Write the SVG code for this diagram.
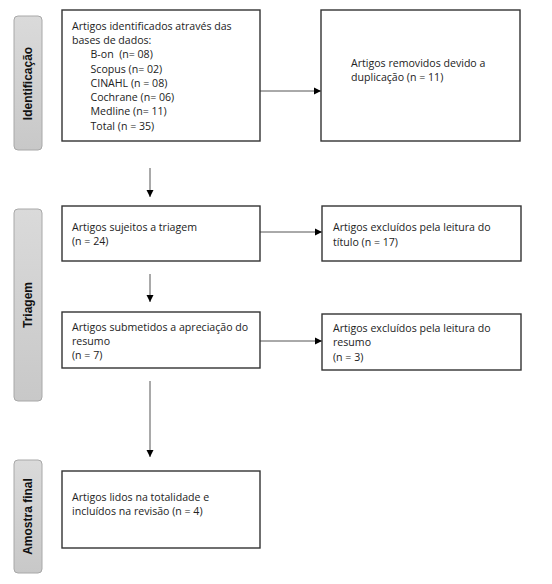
<svg xmlns="http://www.w3.org/2000/svg" width="552" height="584" viewBox="0 0 552 584">
<style>
.box{fill:#fff;stroke:#333;stroke-width:1.4}
.bar{fill:url(#g);stroke:#a8a8a8;stroke-width:1}
.t{font-family:"Open Sans","Liberation Sans",sans-serif;font-size:10.6px;fill:#222}
.lab{font-family:"Liberation Sans",Arial,sans-serif;font-size:12px;font-weight:bold;fill:#111;text-anchor:middle}
.c{stroke:#555;stroke-width:1;fill:none;marker-end:url(#ah)}
</style>
<defs>
<linearGradient id="g" x1="0" y1="0" x2="0" y2="1">
<stop offset="0" stop-color="#dadada"/>
<stop offset="1" stop-color="#c8c8c8"/>
</linearGradient>
<marker id="ah" markerWidth="8" markerHeight="8" refX="7" refY="4" orient="auto" markerUnits="userSpaceOnUse">
<path d="M0,0.5 L7,4 L0,7.5 Z" fill="#000"/>
</marker>
</defs>
<g id="bar-identificacao"><rect class="bar" x="14" y="16" width="28" height="134" rx="4"/><text class="lab" transform="translate(32,83.5) rotate(-90)">Identificação</text></g>
<g id="bar-triagem"><rect class="bar" x="14" y="209" width="28" height="192" rx="4"/><text class="lab" transform="translate(32,305) rotate(-90)">Triagem</text></g>
<g id="bar-amostra"><rect class="bar" x="14" y="460" width="28" height="113" rx="4"/><text class="lab" transform="translate(32,516.5) rotate(-90)">Amostra final</text></g>
<g id="connectors">
<line class="c" x1="260" y1="91" x2="321" y2="91"/>
<line class="c" x1="150" y1="168" x2="150" y2="197"/>
<line class="c" x1="260" y1="232" x2="322" y2="232"/>
<line class="c" x1="150" y1="274" x2="150" y2="302"/>
<line class="c" x1="260" y1="341" x2="322" y2="341"/>
<line class="c" x1="150" y1="381" x2="150" y2="457"/>
</g>
<g id="n1"><rect class="box" x="62" y="10" width="198" height="131"/>
<text class="t"><tspan x="72" y="29.5">Artigos identificados através das</tspan><tspan x="72" y="44">bases de dados:</tspan><tspan x="90.5" y="58">B-on &#160;(n= 08)</tspan><tspan x="90.5" y="72.5">Scopus (n= 02)</tspan><tspan x="90.5" y="86.5">CINAHL (n = 08)</tspan><tspan x="90.5" y="100.5">Cochrane (n= 06)</tspan><tspan x="90.5" y="115">Medline (n= 11)</tspan><tspan x="90.5" y="130">Total (n = 35)</tspan></text></g>
<g id="n2"><rect class="box" x="321" y="10" width="199" height="131"/>
<text class="t"><tspan x="351" y="66.5">Artigos removidos devido a</tspan><tspan x="351" y="80.5">duplicação (n = 11)</tspan></text></g>
<g id="n3"><rect class="box" x="62" y="206" width="198" height="55"/>
<text class="t"><tspan x="72" y="230.5">Artigos sujeitos a triagem</tspan><tspan x="72" y="245">(n = 24)</tspan></text></g>
<g id="n4"><rect class="box" x="322" y="206" width="199" height="55"/>
<text class="t"><tspan x="333" y="231">Artigos excluídos pela leitura do</tspan><tspan x="333" y="245.5">título (n = 17)</tspan></text></g>
<g id="n5"><rect class="box" x="62" y="312" width="198" height="56"/>
<text class="t"><tspan x="72" y="330.5">Artigos submetidos a apreciação do</tspan><tspan x="72" y="345">resumo</tspan><tspan x="72" y="359">(n = 7)</tspan></text></g>
<g id="n6"><rect class="box" x="322" y="314" width="199" height="56"/>
<text class="t"><tspan x="333" y="332">Artigos excluídos pela leitura do</tspan><tspan x="333" y="346">resumo</tspan><tspan x="333" y="360.5">(n = 3)</tspan></text></g>
<g id="n7"><rect class="box" x="62" y="471" width="198" height="77"/>
<text class="t"><tspan x="72" y="500.5">Artigos lidos na totalidade e</tspan><tspan x="72" y="515">incluídos na revisão (n = 4)</tspan></text></g>
</svg>
